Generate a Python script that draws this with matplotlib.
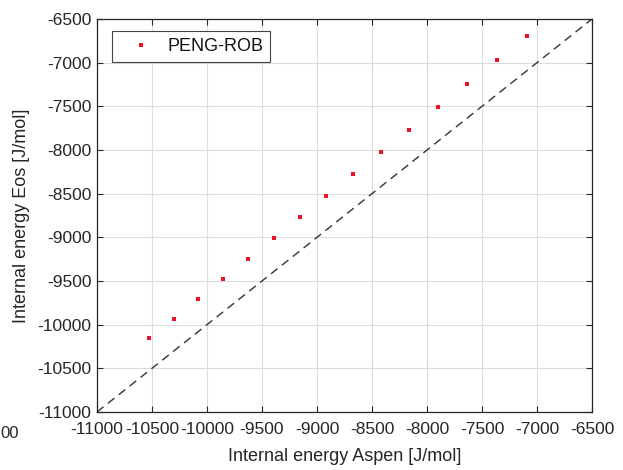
import matplotlib
matplotlib.use("Agg")
import matplotlib.pyplot as plt

# Data
u_aspen = [-10525, -10303, -10082, -9855, -9627, -9391, -9155, -8918,
           -8670, -8418, -8161, -7900, -7636, -7366, -7091]
u_eos = [-10153, -9935, -9710, -9481, -9248, -9011, -8767, -8527,
         -8278, -8027, -7771, -7508, -7244, -6973, -6698]
series_label = "PENG-ROB"
ticks = [-11000, -10500, -10000, -9500, -9000, -8500, -8000, -7500, -7000, -6500]
lims = [-11000, -6500]

plt.rcParams['font.family'] = ['Liberation Sans', 'DejaVu Sans']
txt = '#262626'

fig = plt.figure(figsize=(6.23, 4.70), dpi=100)
ax = fig.add_axes([97/623, 58/470, 495/623, 393/470])

ax.plot(lims, lims, linestyle=(0, (6, 4)), color='#333333', linewidth=1.0, zorder=2)
ax.plot(u_aspen, u_eos, linestyle='none', marker='s', markersize=2.4,
        color='#ee1122', markeredgewidth=0, label=series_label, zorder=3)

ax.set_xlim(lims)
ax.set_ylim(lims)
ax.set_xticks(ticks)
ax.set_yticks(ticks)
ax.set_xticklabels([str(t) for t in ticks])
ax.set_yticklabels([str(t) for t in ticks])
ax.grid(True, color='#dcdcdc', linewidth=0.8, zorder=0)
ax.set_axisbelow(True)
ax.tick_params(direction='in', top=True, right=True, length=4, width=0.8,
               colors=txt, labelsize=12.5, labelcolor=txt)
ax.tick_params(axis='x', pad=7)
ax.tick_params(axis='y', pad=4)
for s in ax.spines.values():
    s.set_color(txt)
    s.set_linewidth(0.9)

ax.set_xlabel("Internal energy Aspen [J/mol]", fontsize=13, color=txt, labelpad=8)
ax.set_ylabel("Internal energy Eos [J/mol]", fontsize=13, color=txt, labelpad=5)

leg = ax.legend(loc='upper left', fontsize=13, frameon=True, fancybox=False,
                edgecolor='#444444', framealpha=1, borderpad=0.38, handlelength=2.4,
                handletextpad=0.3, bbox_to_anchor=(15/495, 1 - 12/393), borderaxespad=0)
leg.get_frame().set_linewidth(0.8)
for t in leg.get_texts():
    t.set_color('#111111')

fig.text(0.5/623, 1 - 433/470, "00", ha='left', va='center', fontsize=12, color=txt)

fig.savefig("out.png", dpi=100)
